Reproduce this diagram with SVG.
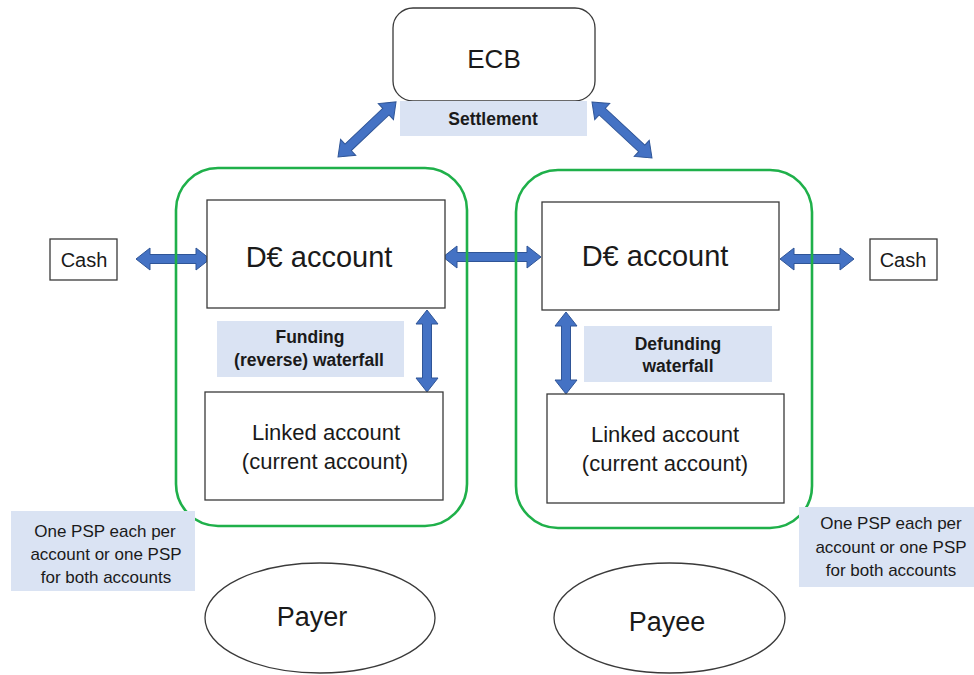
<svg xmlns="http://www.w3.org/2000/svg" width="974" height="675" viewBox="0 0 974 675">
<style>
text{font-family:"Liberation Sans",Arial,sans-serif;fill:#1a1a1a;text-anchor:middle}
.box{fill:#fff;stroke:#3a3a3a;stroke-width:1.3}
.grp{fill:none;stroke:#1fb04a;stroke-width:2.6}
.lbl{fill:#dae3f3;stroke:none}
.arr{fill:#4472c4;stroke:#2f5597;stroke-width:1}
.b{font-weight:bold;font-size:17.5px}
.n{font-size:17px}
</style>
<rect width="974" height="675" fill="#fff"/>
<g id="connectors">
<path class="arr" transform="translate(136,259)" d="M0,0 L14,-11 L14,-4.5 L60,-4.5 L60,-11 L74,0 L60,11 L60,4.5 L14,4.5 L14,11 Z"/>
<path class="arr" transform="translate(443,257)" d="M0,0 L14,-11 L14,-4.5 L84,-4.5 L84,-11 L98,0 L84,11 L84,4.5 L14,4.5 L14,11 Z"/>
<path class="arr" transform="translate(780,259)" d="M0,0 L14,-11 L14,-4.5 L60,-4.5 L60,-11 L74,0 L60,11 L60,4.5 L14,4.5 L14,11 Z"/>
<path class="arr" transform="translate(427,310) rotate(90)" d="M0,0 L14,-11 L14,-4.5 L68,-4.5 L68,-11 L82,0 L68,11 L68,4.5 L14,4.5 L14,11 Z"/>
<path class="arr" transform="translate(566,312) rotate(90)" d="M0,0 L14,-11 L14,-4.5 L68,-4.5 L68,-11 L82,0 L68,11 L68,4.5 L14,4.5 L14,11 Z"/>
<path class="arr" transform="translate(338,157) rotate(-43.5)" d="M0,0 L14,-11 L14,-4.5 L66,-4.5 L66,-11 L80,0 L66,11 L66,4.5 L14,4.5 L14,11 Z"/>
<path class="arr" transform="translate(592,102) rotate(43)" d="M0,0 L14,-11 L14,-4.5 L68,-4.5 L68,-11 L82,0 L68,11 L68,4.5 L14,4.5 L14,11 Z"/>
</g>
<g id="payer-group"><rect class="grp" x="176" y="168" width="291" height="358" rx="42"/></g>
<g id="payee-group"><rect class="grp" x="516" y="170" width="296" height="358" rx="42"/></g>
<g id="ecb"><rect class="box" x="393" y="8" width="202" height="93" rx="20"/><text x="494" y="68" font-size="26">ECB</text></g>
<g id="settlement"><rect class="lbl" x="400" y="101" width="187" height="35"/><text class="b" x="493" y="125">Settlement</text></g>
<g id="cash-left"><rect class="box" x="50" y="239" width="67" height="41"/><text x="84" y="267" font-size="20">Cash</text></g>
<g id="cash-right"><rect class="box" x="870" y="239" width="67" height="41"/><text x="903" y="267" font-size="20">Cash</text></g>
<g id="de-account-left"><rect class="box" x="207" y="200" width="238" height="108"/><text x="319" y="267" font-size="29">D€ account</text></g>
<g id="de-account-right"><rect class="box" x="542" y="202" width="237" height="108"/><text x="655" y="266" font-size="29">D€ account</text></g>
<g id="funding"><rect class="lbl" x="217" y="321" width="187" height="56"/><text class="b" x="310" y="343">Funding</text><text class="b" x="309" y="366">(reverse) waterfall</text></g>
<g id="defunding"><rect class="lbl" x="584" y="326" width="188" height="56"/><text class="b" x="678" y="350">Defunding</text><text class="b" x="678" y="372">waterfall</text></g>
<g id="linked-left"><rect class="box" x="205" y="392" width="238" height="108"/><text x="326" y="440" font-size="22">Linked account</text><text x="325" y="469" font-size="22">(current account)</text></g>
<g id="linked-right"><rect class="box" x="547" y="394" width="237" height="109"/><text x="665" y="442" font-size="22">Linked account</text><text x="665" y="471" font-size="22">(current account)</text></g>
<g id="psp-left"><rect class="lbl" x="11" y="511" width="184" height="80"/><text class="n" x="105" y="537">One PSP each per</text><text class="n" x="106" y="560">account or one PSP</text><text class="n" x="106" y="583">for both accounts</text></g>
<g id="psp-right"><rect class="lbl" x="799" y="507" width="175" height="80"/><text class="n" x="891" y="529">One PSP each per</text><text class="n" x="891" y="553">account or one PSP</text><text class="n" x="891" y="576">for both accounts</text></g>
<g id="payer"><ellipse class="box" cx="320" cy="618" rx="115" ry="55"/><text x="312" y="626" font-size="27">Payer</text></g>
<g id="payee"><ellipse class="box" cx="669.5" cy="618" rx="115.5" ry="55"/><text x="667" y="631" font-size="27">Payee</text></g>
</svg>
